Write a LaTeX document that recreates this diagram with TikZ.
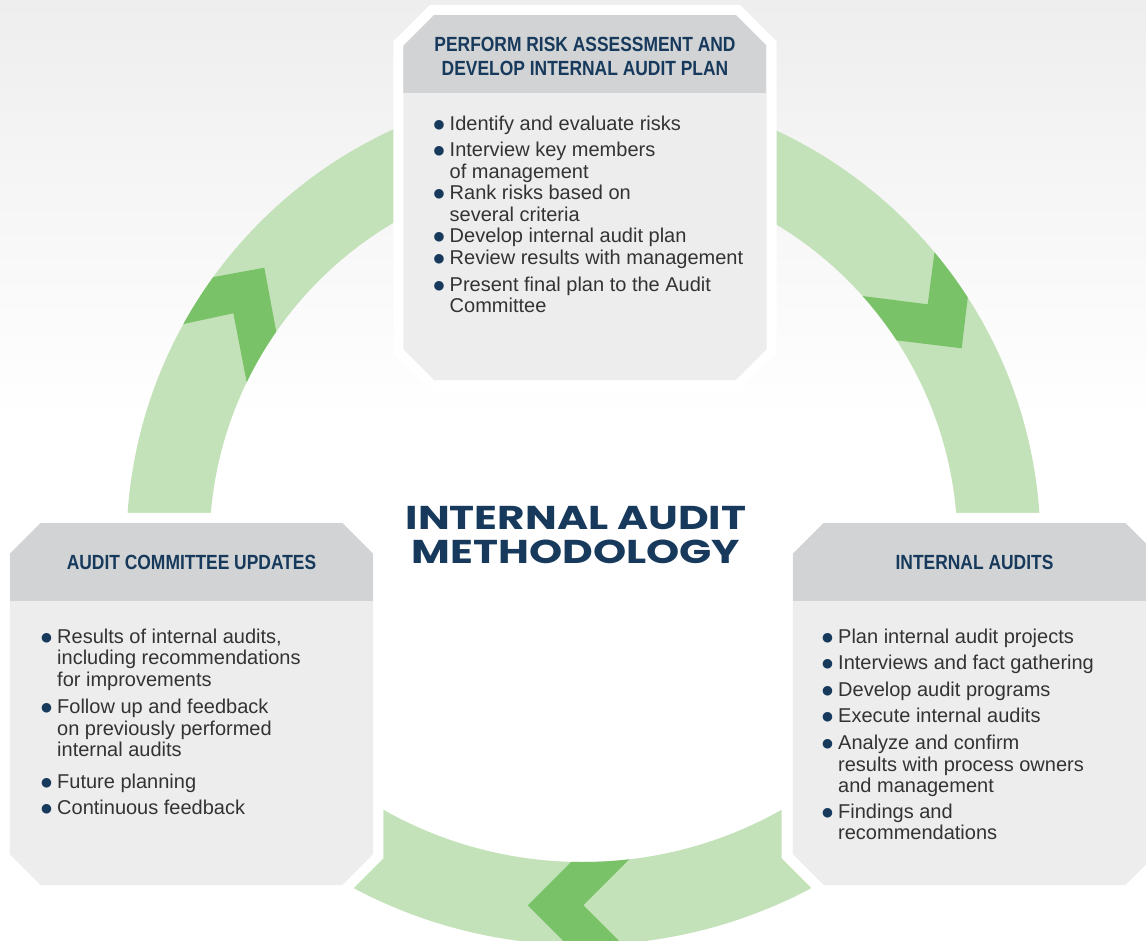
\documentclass[tikz,border=0pt]{standalone}
\usepackage{fontspec}
\setmainfont{Liberation Sans}
\newfontfamily\headfont[FakeStretch=0.85]{Liberation Sans}
\newfontfamily\titlefont[FakeStretch=1.28]{Poppins}
\newfontfamily\symfont{DejaVu Sans}
\usetikzlibrary{positioning, calc}
\definecolor{navyblue}{RGB}{22,57,92}
\definecolor{bodygray}{RGB}{237,237,237}
\definecolor{headgray}{RGB}{209,211,212}
\definecolor{ringgreen}{RGB}{196,226,185}
\definecolor{arrowgreen}{RGB}{121,194,103}
\definecolor{textgray}{RGB}{51,51,51}
\definecolor{bgtop}{RGB}{238,238,238}
\newcommand{\bul}{\makebox[16pt][l]{\textcolor{navyblue}{\symfont\fontsize{12.5}{12.5}\selectfont\raisebox{2.1pt}{●}}}}
\newcommand{\ind}{\hspace*{16pt}}
\tikzset{
  stagebox/.style={rectangle, minimum width=363pt, minimum height=362pt, inner sep=0pt},
  chamfer/.style={insert path={([xshift=31pt]#1.north west) -- ([xshift=-31pt]#1.north east)
              -- ([yshift=-31pt]#1.north east) -- ([yshift=31pt]#1.south east)
              -- ([xshift=-31pt]#1.south east) -- ([xshift=31pt]#1.south west)
              -- ([yshift=31pt]#1.south west) -- ([yshift=-31pt]#1.north west) -- cycle}},
  boxfill/.style={fill=bodygray, preaction={draw=white, line width=20pt},
              path picture={\fill[headgray] (path picture bounding box.north west)
                rectangle ([yshift=-78pt]path picture bounding box.north east);}},
  stagetitle/.style={font=\headfont\bfseries\fontsize{20.5}{24.3}\selectfont,
              text=navyblue, align=center},
  itemlist/.style={font=\fontsize{20}{21.5}\selectfont, text=textgray,
              anchor=base west, inner sep=0pt},
}

\begin{document}
\begin{tikzpicture}[x=1pt, y=-1pt]
  \useasboundingbox (0,0) rectangle (1146,941);
  \clip (0,0) rectangle (1146,941);
  \fill[top color=bgtop, bottom color=white] (0,0) rectangle (1146,420);

  \coordinate (ringc) at (583.5,545);
  \coordinate (arcc) at (582.5,457);

  % upper ring
  \begin{scope}[even odd rule]
    \clip (0,0) rectangle (1146,512);
    \fill[ringgreen] (ringc) circle[radius=457] (ringc) circle[radius=374];
    \clip (ringc) circle[radius=457] (ringc) circle[radius=374];
    \fill[arrowgreen] (189.4,281.5) -- (264.3,267.7) -- (278.2,342.2) -- (248.5,391.3)
      -- (233.3,313.3) -- (162.7,328.5) -- cycle;
    \fill[arrowgreen] (937.2,231.5) -- (927.7,304.3) -- (849.7,294.4) -- (883.7,338.8)
      -- (961.7,348.3) -- (970.3,276.0) -- cycle;
  \end{scope}

  % lower ring
  \begin{scope}[even odd rule]
    \clip (383.3,700) -- (383.3,858.3) -- (283.3,958.3) -- (881.7,958.3)
      -- (781.7,858.3) -- (781.7,700) -- cycle;
    \fill[ringgreen] (arcc) circle[radius=488] (arcc) circle[radius=405];
    \clip (arcc) circle[radius=488] (arcc) circle[radius=405];
    \fill[arrowgreen] (527.7,905.3) -- (587.7,845.3) -- (643.3,845.3) -- (583.3,905.3)
      -- (643.3,965.3) -- (587.7,965.3) -- cycle;
  \end{scope}

  \node[stagebox, minimum height=365pt] (riskbox) at (585,197.5) {};
  \node[stagebox] (committeebox) at (191.5,704) {};
  \node[stagebox] (auditbox) at (974.5,704) {};
  \path[boxfill, chamfer=riskbox];
  \path[boxfill, chamfer=committeebox];
  \path[boxfill, chamfer=auditbox];

  \node[stagetitle] (risktitle) at ([yshift=-41.5pt]riskbox.north)
       {PERFORM RISK ASSESSMENT AND\\DEVELOP INTERNAL AUDIT PLAN};
  \node[stagetitle] (committeetitle) at ([yshift=-40pt]committeebox.north)
       {AUDIT COMMITTEE UPDATES};
  \node[stagetitle] (audittitle) at ([yshift=-40pt]auditbox.north)
       {INTERNAL AUDITS};

  \node[itemlist] (risklist) at (433.5,130.7) {\begin{tabular}[t]{@{}l@{}}
    \bul Identify and evaluate risks\\[4.5pt]
    \bul Interview key members\\
    \ind of management\\
    \bul Rank risks based on\\
    \ind several criteria\\
    \bul Develop internal audit plan\\
    \bul Review results with management\\[5.5pt]
    \bul Present final plan to the Audit\\
    \ind Committee
  \end{tabular}};
  \node[itemlist] (committeelist) at (41,643.3) {\begin{tabular}[t]{@{}l@{}}
    \bul Results of internal audits,\\
    \ind including recommendations\\
    \ind for improvements\\[6pt]
    \bul Follow up and feedback\\
    \ind on previously performed\\
    \ind internal audits\\[10pt]
    \bul Future planning\\[5pt]
    \bul Continuous feedback
  \end{tabular}};
  \node[itemlist] (auditlist) at (822,643.3) {\begin{tabular}[t]{@{}l@{}}
    \bul Plan internal audit projects\\[5pt]
    \bul Interviews and fact gathering\\[5pt]
    \bul Develop audit programs\\[4.5pt]
    \bul Execute internal audits\\[6pt]
    \bul Analyze and confirm\\
    \ind results with process owners\\
    \ind and management\\[4pt]
    \bul Findings and\\
    \ind recommendations
  \end{tabular}};

  \node[font=\titlefont\bfseries\fontsize{33}{34}\selectfont, text=navyblue,
        align=center] (methtitle) at (576,535) {INTERNAL AUDIT\\METHODOLOGY};
\end{tikzpicture}
\end{document}
